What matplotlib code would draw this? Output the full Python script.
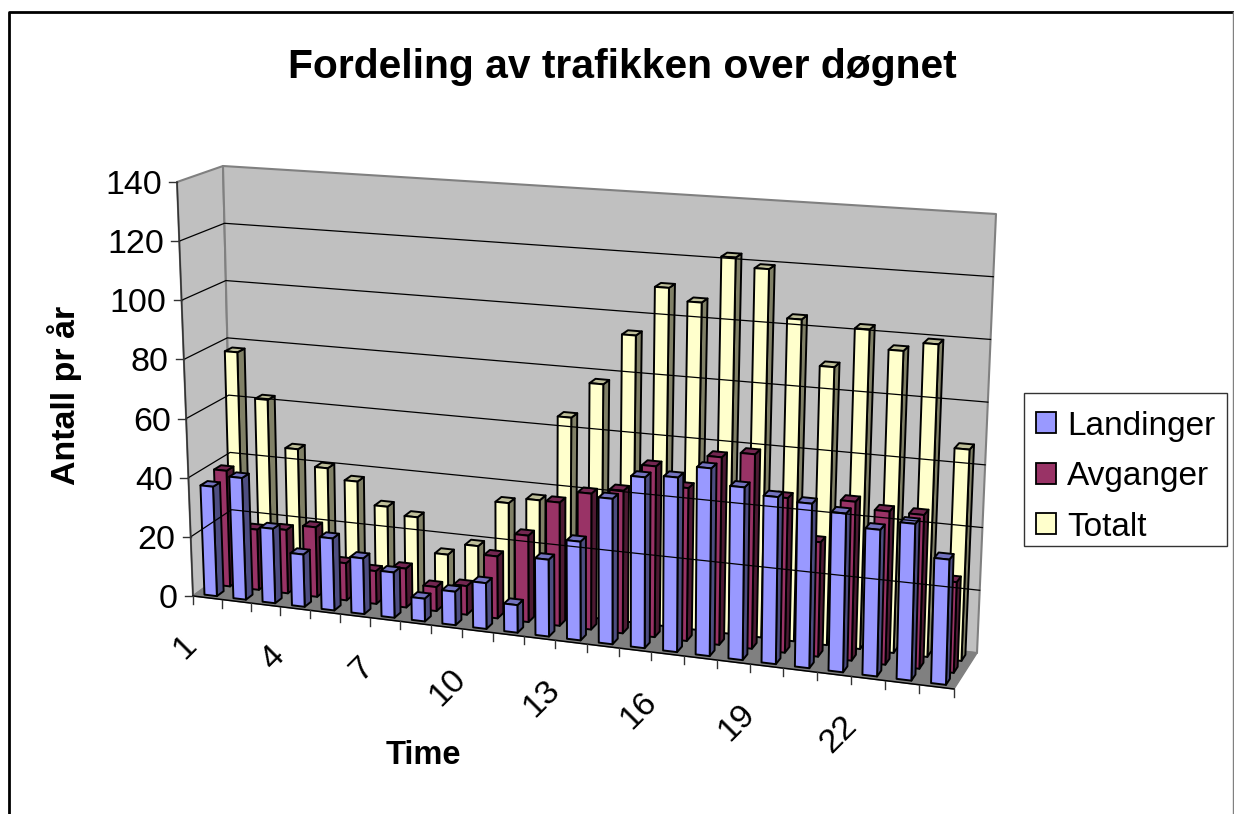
import numpy as np
import matplotlib
matplotlib.use("Agg")
import matplotlib.pyplot as plt
from matplotlib.patches import Polygon, Rectangle

plt.rcParams['font.family'] = ['Liberation Sans', 'DejaVu Sans']

title = "Fordeling av trafikken over døgnet"
xlabel = "Time"
ylabel = "Antall pr år"
hours = list(range(1, 25))
landinger = [37, 41, 25, 17.5, 24, 18.5, 15, 7.5, 11, 15, 9, 25, 32, 47, 55, 56, 60, 55, 53, 52, 50, 46, 49, 39]
avganger = [39.5, 20.5, 21.5, 23.5, 12.5, 11, 13, 8, 9.5, 20.5, 28.5, 40.5, 44.5, 46.5, 55.5, 49.5, 60.5, 62.5, 49.5, 36.5, 50.5, 48.5, 48.5, 28.5]
totalt = [77.5, 62, 46, 40.5, 37, 29.5, 27, 15.5, 19.5, 35, 37, 65.5, 77.5, 94.5, 111, 107, 122.5, 119.5, 104, 89.5, 102.5, 96.5, 99.5, 67]
yticks = [0, 20, 40, 60, 80, 100, 120, 140]
xtick_every = 3

series = [
    ("Landinger", landinger, "#9999FF", "#4D4D80", "#7373BF", 1/6),
    ("Avganger", avganger, "#993366", "#4D1A33", "#732650", 1/2),
    ("Totalt", totalt, "#FFFFCC", "#808066", "#BFBF99", 5/6),
]

# projected corners of the 3D box, (hour-axis, depth, value)
C = {
    (0, 0, 0): (193, 596), (1, 0, 0): (954, 689),
    (0, 1, 0): (233, 567), (1, 1, 0): (977, 653),
    (0, 0, 1): (177, 182), (1, 0, 1): (966, 238),
    (0, 1, 1): (223, 166), (1, 1, 1): (996, 214),
}
K = 1.10
YMAX = 140.0


def proj(h, d, v):
    """h: hours from the left edge (0..24); d: depth 0..1; v: value."""
    u = h / 24.0
    s = u / (u + K * (1 - u))
    z = v / YMAX
    p = np.zeros(2)
    for (a, b, c), xy in C.items():
        w = (s if a else 1 - s) * (d if b else 1 - d) * (z if c else 1 - z)
        p += w * np.array(xy, float)
    return tuple(p)


fig = plt.figure(figsize=(12.34, 8.14), dpi=100)
ax = fig.add_axes([0, 0, 1, 1])
ax.set_xlim(0, 1234)
ax.set_ylim(814, 0)
ax.axis("off")

# chart frame
ax.plot([8.5, 8.5, 1233], [814, 12, 12], color="black", lw=2)
ax.plot([1233, 1233], [12, 814], color="#808080", lw=1)

# walls and floor
wall_kw = dict(facecolor="#C0C0C0", edgecolor="#808080", lw=1.5, joinstyle="round")
ax.add_patch(Polygon([proj(0, 0, 0), proj(0, 1, 0), proj(0, 1, YMAX), proj(0, 0, YMAX)], **wall_kw))
ax.add_patch(Polygon([proj(0, 1, 0), proj(24, 1, 0), proj(24, 1, YMAX), proj(0, 1, YMAX)], **wall_kw))
ax.add_patch(Polygon([proj(0, 0, 0), proj(24, 0, 0), proj(24, 1, 0), proj(0, 1, 0)],
                     facecolor="#808080", edgecolor="#808080", lw=1))

for t in yticks[1:-1]:
    a, b, c = proj(0, 0, t), proj(0, 1, t), proj(24, 1, t)
    ax.plot([a[0], b[0], c[0]], [a[1], b[1], c[1]], color="black", lw=0.9)

# axes lines
p0, p1 = proj(0, 0, 0), proj(0, 0, YMAX)
ax.plot([p0[0], p1[0]], [p0[1], p1[1]], color="#333333", lw=1.1)
p2 = proj(24, 0, 0)
ax.plot([p0[0], p2[0]], [p0[1], p2[1]], color="black", lw=1.1)

for t in yticks:
    x, y = proj(0, 0, t)
    ax.plot([x - 8, x], [y, y], color="#333333", lw=1)
    ax.text(x - 15, y, str(t), ha="right", va="center_baseline", fontsize=24.5, color="black")

for h in range(0, 25):
    x, y = proj(h, 0, 0)
    ax.plot([x, x], [y, y + 8], color="#333333", lw=1)

for i, hour in enumerate(hours):
    if i % xtick_every == 0:
        x, y = proj(i + 0.5, 0, 0)
        ax.text(x - 16, y + 43, str(hour), rotation=45, rotation_mode="anchor",
                ha="right", va="center", fontsize=24.5, color="black")

# bars
BAR_W = 0.43
BAR_D = 0.17
edge = dict(edgecolor="black", lw=1.4, joinstyle="round")
for name, vals, face, side, top, dc in reversed(series):
    d0, d1 = dc - BAR_D / 2, dc + BAR_D / 2
    for i, v in enumerate(vals):
        h0, h1 = i + 0.5 - BAR_W / 2, i + 0.5 + BAR_W / 2
        ax.add_patch(Polygon([proj(h1, d0, 0), proj(h1, d1, 0), proj(h1, d1, v), proj(h1, d0, v)],
                             facecolor=side, **edge))
        ax.add_patch(Polygon([proj(h0, d0, v), proj(h1, d0, v), proj(h1, d1, v), proj(h0, d1, v)],
                             facecolor=top, **edge))
        ax.add_patch(Polygon([proj(h0, d0, 0), proj(h1, d0, 0), proj(h1, d0, v), proj(h0, d0, v)],
                             facecolor=face, **edge))

# titles
ax.text(622, 67, title, ha="center", va="center", fontsize=29.3, fontweight="bold")
ax.text(64, 395, ylabel, ha="center", va="center", rotation=90, fontsize=24.5, fontweight="bold")
ax.text(423, 755, xlabel, ha="center", va="center", fontsize=23.5, fontweight="bold")

# legend
ax.add_patch(Rectangle((1023.5, 393), 203.5, 153, facecolor="white", edgecolor="#333333", lw=1))
for (name, vals, face, side, top, dc), y in zip(series, [422.5, 473, 523.5]):
    ax.add_patch(Rectangle((1036, y - 10.5), 20, 21, facecolor=face, edgecolor="black", lw=1.3))
    ax.text(1067, y, name, ha="left", va="center_baseline", fontsize=24)

fig.savefig("out.png", dpi=100)
